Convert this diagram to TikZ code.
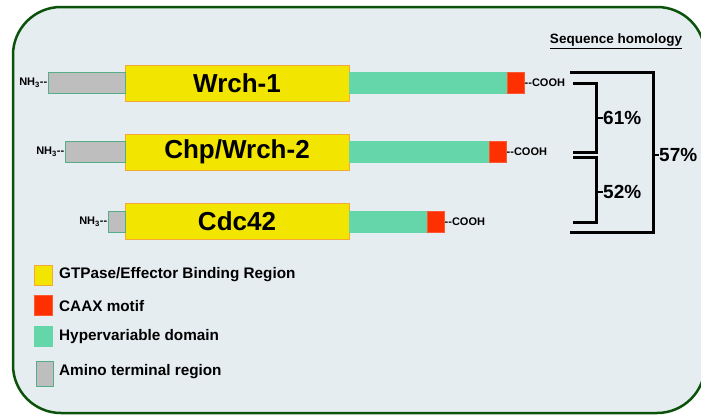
\documentclass[tikz,border=0pt]{standalone}
\usepackage{fontspec}
\setmainfont{Liberation Sans}
\usetikzlibrary{positioning}

\definecolor{panel}{HTML}{E6EDF1}
\definecolor{frame}{HTML}{0B520B}
\definecolor{gtpyellow}{HTML}{F2E600}
\definecolor{gtpedge}{HTML}{F5A83A}
\definecolor{caaxred}{HTML}{FF3000}
\definecolor{hvrgreen}{HTML}{64D6AA}
\definecolor{aminogray}{HTML}{BEBEBE}
\definecolor{aminoedge}{HTML}{55AE88}

\begin{document}
\begin{tikzpicture}[x=1pt,y=-1pt,font=\bfseries]
	\tikzset{
		bar/.style={shape=rectangle,inner sep=0pt,outer sep=0pt,line width=0.6pt},
		gtp/.style={bar,fill=gtpyellow,draw=gtpedge,minimum width=224pt,minimum height=36pt,font=\fontsize{26}{28}\bfseries},
		amino/.style={bar,fill=aminogray,draw=aminoedge,minimum height=21pt},
		hvr/.style={bar,fill=hvrgreen,draw=hvrgreen,minimum height=21pt},
		caax/.style={bar,fill=caaxred,draw=caaxred!80!white,minimum width=17pt,minimum height=21pt},
		tag/.style={inner sep=0.5pt,font=\fontsize{11}{12}\bfseries},
		key/.style={bar,minimum width=18pt,minimum height=20pt},
		keytext/.style={anchor=west,inner sep=0pt,font=\fontsize{15.3}{17}\bfseries},
		bracket/.style={line width=3pt},
		pct/.style={anchor=west,inner sep=0pt,font=\fontsize{19}{21}\bfseries}
	}
	\clip (0,0) rectangle (701,415);
	\draw[fill=panel,draw=frame,line width=2.5pt,rounded corners=48pt] (13,7) rectangle (705,413);

	\node[inner sep=0pt,font=\fontsize{13.5}{15}\bfseries] (title) at (616,41) {\underline{Sequence homology}};

	% Wrch-1
	\node[gtp] (gtp1) at (237,83) {Wrch-1};
	\node[amino,minimum width=77pt,left=0pt of gtp1] (amino1) {};
	\node[hvr,minimum width=158pt,right=0pt of gtp1] (hvr1) {};
	\node[caax,right=0pt of hvr1] (caax1) {};
	\node[tag,right=0pt of caax1] (cooh1) {-{}-COOH};
	\node[tag,left=0pt of amino1] (nh1) {NH\textsubscript{3}-{}-};

	% Chp/Wrch-2
	\node[gtp] (gtp2) at (237,152) {Chp/Wrch-2};
	\node[amino,minimum width=60pt,left=0pt of gtp2] (amino2) {};
	\node[hvr,minimum width=140pt,right=0pt of gtp2] (hvr2) {};
	\node[caax,right=0pt of hvr2] (caax2) {};
	\node[tag,right=0pt of caax2] (cooh2) {-{}-COOH};
	\node[tag,left=0pt of amino2] (nh2) {NH\textsubscript{3}-{}-};

	% Cdc42
	\node[gtp] (gtp3) at (237,221.5) {Cdc42};
	\node[amino,minimum width=17pt,left=0pt of gtp3] (amino3) {};
	\node[hvr,minimum width=78pt,right=0pt of gtp3] (hvr3) {};
	\node[caax,right=0pt of hvr3] (caax3) {};
	\node[tag,right=0pt of caax3] (cooh3) {-{}-COOH};
	\node[tag,left=0pt of amino3] (nh3) {NH\textsubscript{3}-{}-};

	% homology brackets
	\draw[bracket] (570,72) -- (653,72) -- (653,232) -- (570,232);
	\draw[bracket] (573,83) -- (596,83) -- (596,152) -- (573,152);
	\draw[bracket] (573,157) -- (596,157) -- (596,222) -- (573,222);

	\node[pct] (p61) at (603,118) {61\%};
	\node[pct] (p52) at (603,192) {52\%};
	\node[pct] (p57) at (659,155) {57\%};
	\draw[line width=1.8pt] (596,118) -- (p61.west);
	\draw[line width=1.8pt] (596,192) -- (p52.west);
	\draw[line width=1.8pt] (653,155) -- (p57.west);

	% legend
	\node[key,fill=gtpyellow,draw=gtpedge] (k1) at (43.5,275) {};
	\node[key,fill=caaxred,draw=caaxred!80!white] (k2) at (43,305.5) {};
	\node[key,fill=hvrgreen,draw=hvrgreen] (k3) at (43,336.5) {};
	\node[key,fill=aminogray,draw=aminoedge,minimum width=17pt,minimum height=25pt] (k4) at (44.5,373.5) {};
	\node[keytext] (t1) at (59,275) {GTPase/Effector Binding Region};
	\node[keytext] (t2) at (59,306) {CAAX motif};
	\node[keytext] (t3) at (59,337) {Hypervariable domain};
	\node[keytext] (t4) at (59,372) {Amino terminal region};
\end{tikzpicture}
\end{document}
